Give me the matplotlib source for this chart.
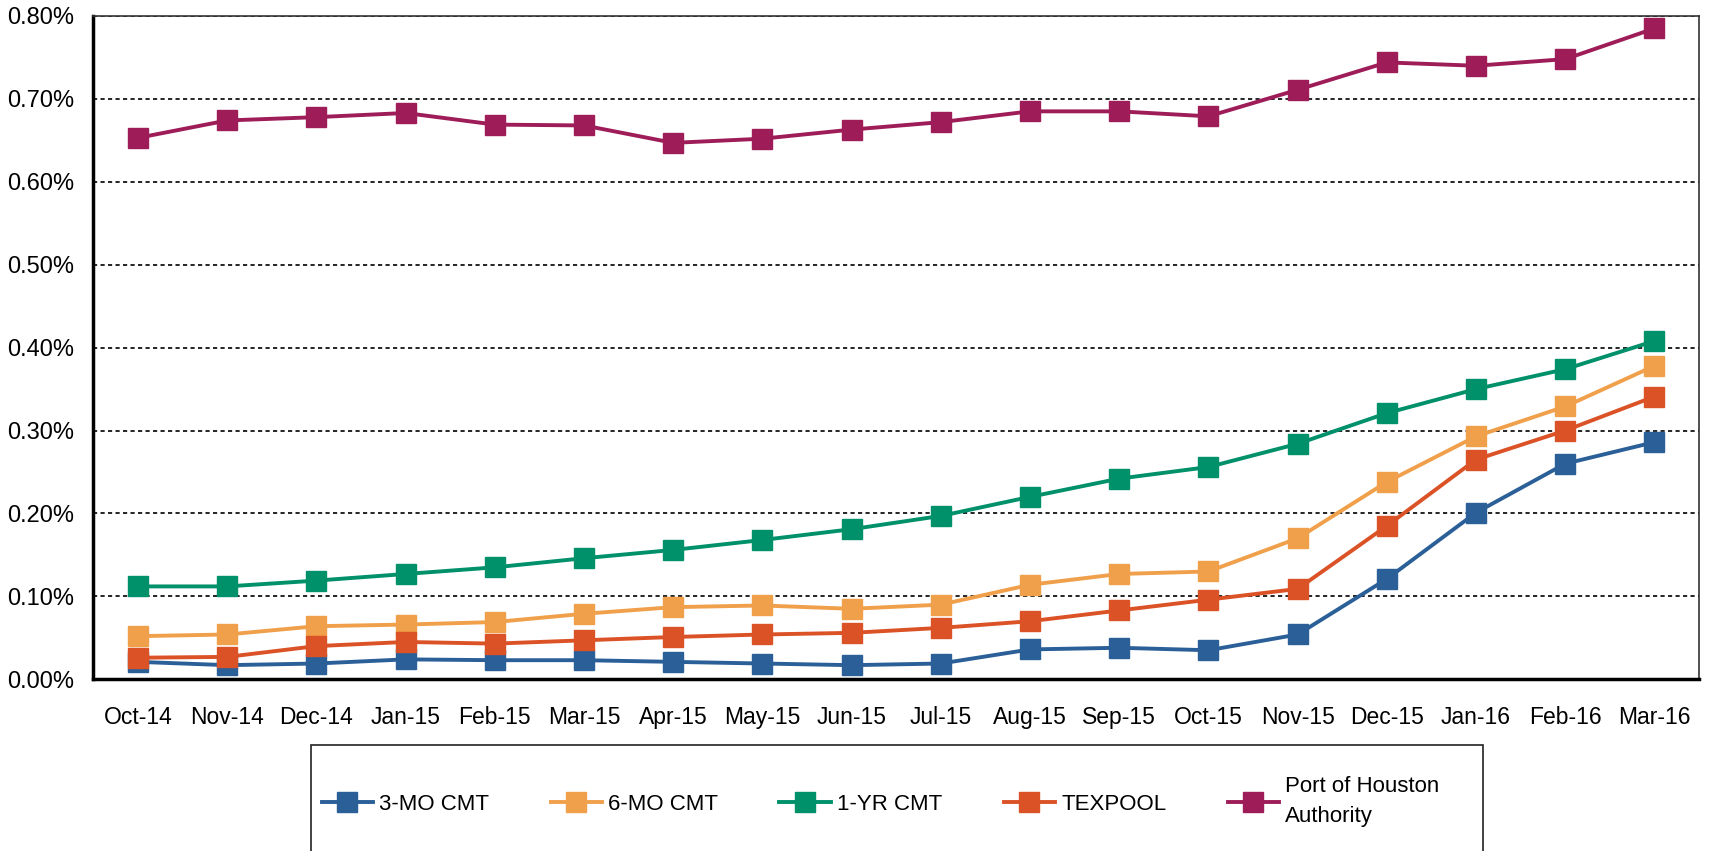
import matplotlib.pyplot as plt
from matplotlib.patches import Rectangle
from matplotlib.ticker import FuncFormatter

plt.rcParams['font.family'] = ['Liberation Sans', 'DejaVu Sans']

# monthly yields, percent
months = ['Oct-14', 'Nov-14', 'Dec-14', 'Jan-15', 'Feb-15', 'Mar-15', 'Apr-15', 'May-15', 'Jun-15',
          'Jul-15', 'Aug-15', 'Sep-15', 'Oct-15', 'Nov-15', 'Dec-15', 'Jan-16', 'Feb-16', 'Mar-16']
cmt_3mo = [0.021, 0.017, 0.019, 0.024, 0.023, 0.023, 0.021, 0.019, 0.017,
           0.019, 0.036, 0.038, 0.035, 0.054, 0.121, 0.201, 0.260, 0.286]
cmt_6mo = [0.052, 0.054, 0.064, 0.066, 0.069, 0.079, 0.087, 0.089, 0.085,
           0.090, 0.114, 0.127, 0.130, 0.170, 0.238, 0.293, 0.329, 0.378]
cmt_1yr = [0.112, 0.112, 0.119, 0.127, 0.135, 0.146, 0.156, 0.168, 0.181,
           0.197, 0.220, 0.242, 0.256, 0.284, 0.321, 0.350, 0.374, 0.408]
texpool = [0.026, 0.027, 0.040, 0.045, 0.043, 0.047, 0.051, 0.054, 0.056,
           0.062, 0.070, 0.083, 0.096, 0.109, 0.185, 0.265, 0.300, 0.341]
port = [0.653, 0.674, 0.678, 0.683, 0.669, 0.668, 0.647, 0.652, 0.663,
        0.672, 0.685, 0.685, 0.679, 0.711, 0.744, 0.740, 0.748, 0.785]

series = [('3-MO CMT', cmt_3mo, '#2B5F97'),
          ('6-MO CMT', cmt_6mo, '#F0A04B'),
          ('1-YR CMT', cmt_1yr, '#00906A'),
          ('TEXPOOL', texpool, '#DB5227'),
          ('Port of Houston\nAuthority', port, '#9E1D59')]

fig = plt.figure(figsize=(17.1, 8.51), dpi=100)
ax = fig.add_axes([0.0546, 0.2018, 0.939, 0.7794])

x = range(len(months))
for name, vals, col in series:
    ax.plot(x, vals, color=col, lw=2.8, marker='s', markersize=14, label=name)

ax.set_xlim(-0.5, len(months) - 0.5)
ax.set_ylim(0, 0.8)
ax.set_yticks([0, 0.1, 0.2, 0.3, 0.4, 0.5, 0.6, 0.7, 0.8])
ax.yaxis.set_major_formatter(FuncFormatter(lambda v, p: f'{v:.2f}%'))
ax.set_xticks(list(x))
ax.set_xticklabels(months)
ax.tick_params(axis='y', length=0, pad=14, labelsize=17)
ax.tick_params(axis='x', length=0, pad=19, labelsize=16.5)
ax.grid(axis='y', color='black', linestyle=(0, (2.5, 2)), lw=1.2)
ax.set_axisbelow(True)

for s in ['left', 'bottom']:
    ax.spines[s].set_linewidth(2.5)
    ax.spines[s].set_color('black')
for s in ['top', 'right']:
    ax.spines[s].set_linewidth(1.2)
    ax.spines[s].set_color('#333333')

# legend box runs off the bottom of the picture
fig.patches.append(Rectangle((0.182, -0.05), 0.685, 0.1746, transform=fig.transFigure,
                             fill=False, edgecolor='#222222', lw=1.2))
leg = fig.legend(loc='center', bbox_to_anchor=(0.515, 0.058), ncol=5, frameon=False,
                 fontsize=16, handlelength=2.3, columnspacing=2.75, handletextpad=0.3)
for t in leg.get_texts():
    t.set_linespacing(1.6)

fig.savefig('out.png', dpi=100)
